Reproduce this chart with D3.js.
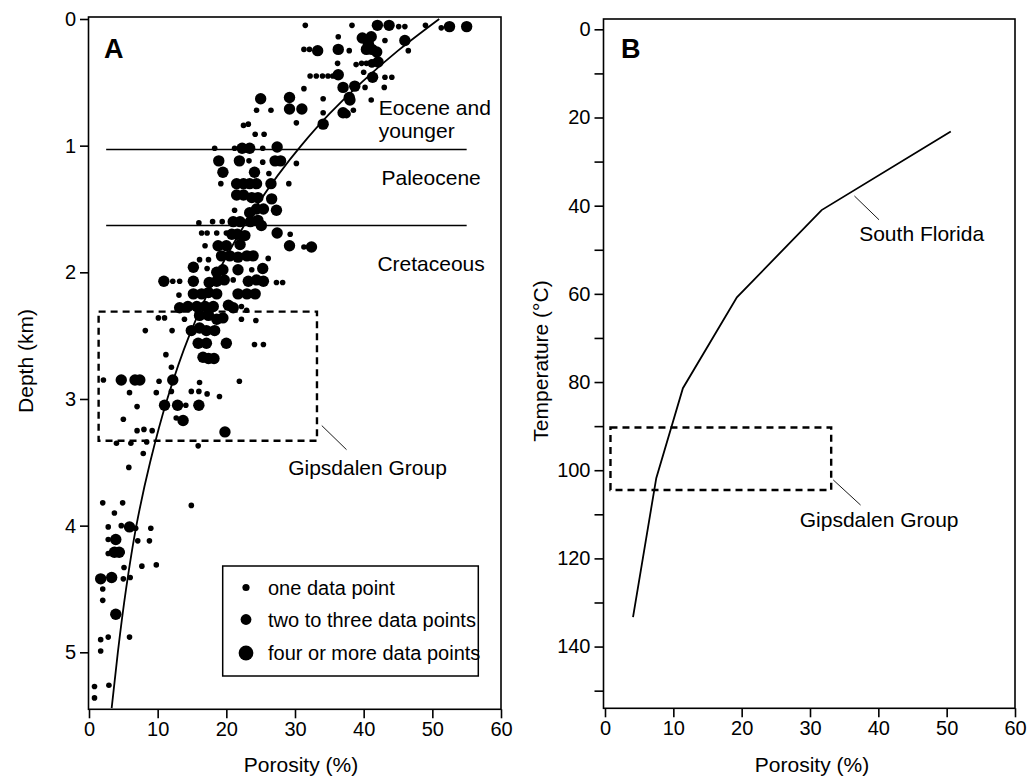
<!DOCTYPE html>
<html><head><meta charset="utf-8">
<script src="https://cdn.jsdelivr.net/npm/d3@7"></script>
<style>
body{margin:0;background:#fff}
svg{display:block}
text{font-family:"Liberation Sans",Arial,Helvetica,sans-serif;fill:#000}
</style>
</head><body>
<svg id="c" width="1027" height="777"></svg>
<script>
// ---------- data ----------
const porosityTicks = [0,10,20,30,40,50,60];
const depthTicks = [0,1,2,3,4,5];
const tempTicks = [0,20,40,60,80,100,120,140];
const tempMinorTicks = [10,30,50,70,90,110,130,150];

// [porosity %, depth km, count class: 1 = one, 2 = two-three, 3 = four or more]
const samples = [
[31.5,0.05,1],[38.3,0.05,1],[42.0,0.05,3],[43.7,0.05,3],[45.1,0.06,1],[46.0,0.06,1],[49.0,0.05,1],[51.3,0.07,1],[52.5,0.06,3],[55.0,0.06,3],
[36.3,0.14,1],[39.8,0.15,3],[41.1,0.14,3],[43.1,0.17,1],[46.0,0.17,3],[46.5,0.25,1],
[31.3,0.24,1],[32.1,0.24,1],[33.3,0.25,3],[36.3,0.24,3],[37.9,0.25,1],[40.4,0.24,3],[41.2,0.24,3],[41.9,0.26,3],[40.7,0.20,3],
[36.2,0.35,1],[38.9,0.36,1],[39.7,0.35,1],[40.4,0.35,1],[41.2,0.35,2],[42.1,0.34,3],
[32.2,0.45,1],[33.1,0.45,1],[34.0,0.45,1],[34.8,0.45,1],[35.5,0.45,1],[36.3,0.44,3],[40.0,0.42,1],[41.3,0.46,3],[43.1,0.46,1],[44.1,0.46,1],
[31.3,0.55,1],[37.0,0.54,3],[38.7,0.53,3],[40.2,0.54,1],[43.0,0.54,1],[37.9,0.62,3],[38.0,0.64,3],[34.1,0.63,1],[41.1,0.64,1],
[25.0,0.63,3],[29.2,0.62,3],[26.5,0.72,1],[24.4,0.72,1],[29.2,0.71,3],[31.0,0.71,3],[34.1,0.74,1],[37.0,0.74,3],[37.5,0.75,2],[38.5,0.72,1],
[30.2,0.82,1],[34.1,0.83,3],[22.5,0.84,1],[23.2,0.83,1],[24.2,0.91,1],[25.5,0.91,1],
[18.3,1.02,1],[21.2,1.02,1],[22.3,1.02,3],[23.4,1.02,3],[25.3,1.02,1],[27.4,1.01,3],
[18.9,1.12,3],[21.9,1.12,3],[23.3,1.12,1],[25.3,1.13,1],[27.1,1.12,3],[27.9,1.12,3],[30.2,1.14,1],
[19.5,1.21,3],[24.1,1.21,3],[26.2,1.22,1],
[19.2,1.30,1],[21.5,1.30,3],[22.5,1.30,3],[23.4,1.30,3],[24.4,1.30,3],[26.5,1.30,3],[29.1,1.30,1],
[21.5,1.39,3],[22.5,1.39,3],[23.7,1.41,3],[24.6,1.41,3],[26.6,1.42,3],
[21.2,1.51,1],[23.4,1.53,3],[24.4,1.50,3],[25.4,1.50,3],[27.3,1.51,3],
[16.0,1.61,1],[18.0,1.60,1],[19.4,1.60,1],[21.0,1.60,3],[22.0,1.60,3],[23.5,1.60,3],[24.6,1.59,3],[25.1,1.63,3],
[16.4,1.69,1],[17.2,1.69,1],[18.6,1.69,1],[20.0,1.69,1],[20.8,1.70,3],[21.6,1.70,3],[22.7,1.71,3],[27.4,1.69,3],[29.3,1.70,1],
[16.9,1.79,1],[18.8,1.79,3],[20.0,1.79,3],[22.0,1.78,3],[29.2,1.79,3],[31.3,1.80,1],[32.4,1.80,3],
[19.3,1.87,3],[20.5,1.87,3],[21.7,1.88,3],[23.0,1.87,3],[23.9,1.87,3],[16.1,1.90,1],[17.4,1.90,1],[26.1,1.89,1],
[15.2,1.96,3],[17.2,1.97,1],[18.6,2.00,3],[19.5,1.98,3],[21.7,1.98,3],[23.7,1.98,1],[25.3,1.97,3],
[10.9,2.07,3],[12.2,2.07,1],[13.2,2.07,1],[15.2,2.07,3],[17.5,2.08,3],[18.6,2.07,3],[19.7,2.06,3],[21.0,2.06,1],[23.2,2.07,3],[24.4,2.06,3],[25.4,2.07,3],[27.3,2.08,1],[28.2,2.08,1],
[13.1,2.18,1],[15.2,2.17,3],[16.4,2.17,3],[17.4,2.16,3],[18.6,2.17,3],[21.7,2.17,3],[23.0,2.17,3],[24.2,2.17,3],
[13.2,2.28,3],[14.4,2.27,3],[15.7,2.27,3],[16.9,2.27,3],[18.1,2.27,3],[20.3,2.26,3],[21.0,2.28,3],[22.2,2.27,1],[22.95,2.30,1],
[10.1,2.36,1],[11.0,2.36,1],[13.9,2.37,1],[16.1,2.34,3],[17.4,2.34,3],[18.6,2.37,3],[19.5,2.36,3],[22.2,2.37,1],[24.3,2.38,1],
[8.2,2.46,1],[12.1,2.46,1],[14.9,2.46,3],[16.1,2.44,3],[17.1,2.46,3],[18.3,2.46,3],
[15.9,2.56,3],[17.1,2.56,3],[20.0,2.56,3],[24.1,2.57,1],[25.4,2.57,1],
[11.2,2.65,1],[16.6,2.67,3],[17.4,2.68,3],[18.2,2.68,3],[12.0,2.75,1],
[2.1,2.85,1],[4.7,2.85,3],[6.7,2.85,3],[7.4,2.85,3],[10.2,2.86,1],[12.2,2.85,3],[16.1,2.87,1],[21.9,2.86,1],
[5.9,2.95,1],[9.8,2.95,1],[12.0,2.94,1],[14.9,2.94,1],[16.0,2.94,1],[17.2,2.96,1],[19.0,2.98,1],
[11.0,3.05,3],[12.9,3.05,3],[14.1,3.05,1],[16.0,3.05,3],[7.0,3.06,1],
[5.0,3.16,1],[12.7,3.15,1],[13.7,3.17,3],[7.0,3.25,1],[8.0,3.24,1],[9.2,3.25,1],[19.8,3.26,3],
[4.0,3.35,1],[6.1,3.35,1],[8.4,3.34,1],[15.9,3.37,1],[7.9,3.43,1],[5.8,3.54,1],
[14.9,3.84,1],[2.0,3.82,1],[4.9,3.82,1],[3.7,3.90,1],
[2.8,4.01,1],[4.7,4.00,1],[5.9,4.01,3],[6.8,4.02,1],[9.0,4.02,1],
[2.8,4.11,1],[3.9,4.11,3],[7.1,4.12,1],[8.8,4.12,1],
[2.8,4.22,1],[3.7,4.21,3],[4.4,4.21,3],[4.8,4.21,1],[7.7,4.32,1],[9.8,4.31,1],[5.1,4.33,1],
[1.7,4.42,3],[3.3,4.41,3],[5.0,4.42,1],[6.0,4.41,1],[2.0,4.50,1],[2.0,4.59,1],[3.9,4.70,3],
[1.7,4.90,1],[2.8,4.88,1],[5.9,4.88,1],[1.7,4.99,1],[2.9,5.26,1],[0.8,5.27,1],[0.8,5.36,1]
];

const trendDepth    = [0, 0.25, 0.5, 0.75, 1, 1.5, 2, 2.5, 3, 3.5, 4, 4.5, 5, 5.44];
const trendPorosity = [51, 45, 39.7, 35, 30.9, 24.1, 18.8, 14.6, 11.4, 8.9, 6.9, 5.4, 4.2, 3.3];

const floridaPorosity = [50.6, 31.7, 19.3, 11.4, 7.5, 4.1];
const floridaTemp     = [23.2, 41.0, 60.8, 81.4, 101.8, 133.3];

const unitBoundaries = [1.03, 1.63];
const legendLabels = ["one data point", "two to three data points", "four or more data points"];
const countClasses = [1, 2, 3];

// ---------- layout ----------
const svg = d3.select("#c");
const FONT = 20;
const radius = {1: 2.8, 2: 4.4, 3: 5.7};
const legendRadius = {1: 3.6, 2: 5.4, 3: 7.4};

const xA = d3.scaleLinear([0, 60], [89, 501]);
const yA = d3.scaleLinear([0, 5.45], [19, 709.3]);
const xB = d3.scaleLinear([0, 60], [605, 1015]);
const yB = d3.scaleLinear([-2.34, 154], [19, 708.3]);

function styleAxis(g){
  g.select(".domain").remove();
  g.selectAll(".tick line").attr("stroke", "#000").attr("stroke-width", 1.6);
  g.selectAll(".tick text").attr("font-size", FONT).attr("fill", "#000")
    .style("font-family", '"Liberation Sans",Arial,sans-serif');
}

// ---------- Panel A ----------
const gA = svg.append("g");
gA.append("g").attr("transform", `translate(${xA.range()[0]},0)`)
  .call(d3.axisLeft(yA).tickValues(depthTicks).tickSize(9).tickPadding(4).tickFormat(d3.format("d")))
  .call(styleAxis);
gA.append("g").attr("transform", `translate(0,${yA.range()[1]})`)
  .call(d3.axisBottom(xA).tickValues(porosityTicks).tickSize(9).tickPadding(4).tickFormat(d3.format("d")))
  .call(styleAxis);

gA.selectAll("line.unit").data(unitBoundaries).join("line")
  .attr("x1", xA(2.5)).attr("x2", xA(55))
  .attr("y1", d => yA(d)).attr("y2", d => yA(d))
  .attr("stroke", "#000").attr("stroke-width", 1.4);

gA.append("rect")
  .attr("x", xA(1.4)).attr("y", yA(2.31))
  .attr("width", xA(33.2) - xA(1.4)).attr("height", yA(3.33) - yA(2.31))
  .attr("fill", "none").attr("stroke", "#000").attr("stroke-width", 2.4)
  .attr("stroke-dasharray", "7,5");

gA.append("g").selectAll("circle").data(samples).join("circle")
  .attr("cx", d => xA(d[0])).attr("cy", d => yA(d[1]))
  .attr("r", d => radius[d[2]]).attr("fill", "#000");

const trendPts = trendDepth.map((d, i) => [trendPorosity[i], d]);
gA.append("path").datum(trendPts)
  .attr("d", d3.line().x(d => xA(d[0])).y(d => yA(d[1])).curve(d3.curveMonotoneY))
  .attr("fill", "none").attr("stroke", "#000").attr("stroke-width", 1.8);

gA.append("rect").attr("x", xA.range()[0] - 0.5).attr("y", 17)
  .attr("width", xA.range()[1] - xA.range()[0] + 0.5).attr("height", yA.range()[1] - 17)
  .attr("fill", "none").attr("stroke", "#000").attr("stroke-width", 1.6);

gA.append("text").attr("x", 104).attr("y", 58).attr("font-size", 27).attr("font-weight", "bold").text("A");
const unitText = [["Eocene and", 42.2, 0.758], ["younger", 42.2, 0.94], ["Paleocene", 42.6, 1.31], ["Cretaceous", 42.0, 1.99], ["Gipsdalen Group", 29.0, 3.60]];
gA.selectAll("text.unit").data(unitText).join("text")
  .attr("x", d => xA(d[1])).attr("y", d => yA(d[2])).attr("font-size", 21).text(d => d[0]);
gA.append("line").attr("x1", xA(33.9)).attr("y1", yA(3.21)).attr("x2", xA(37.5)).attr("y2", yA(3.40))
  .attr("stroke", "#000").attr("stroke-width", 0.9);

const lg = gA.append("g");
lg.append("rect").attr("x", 222.7).attr("y", 566).attr("width", 255.6).attr("height", 110)
  .attr("fill", "#fff").attr("stroke", "#000").attr("stroke-width", 1.5);
const legendY = [587.5, 619.5, 653];
lg.selectAll("circle").data(countClasses).join("circle")
  .attr("cx", 246).attr("cy", (d, i) => legendY[i]).attr("r", d => legendRadius[d]).attr("fill", "#000");
lg.selectAll("text").data(legendLabels).join("text")
  .attr("x", 268).attr("y", (d, i) => legendY[i] + 7).attr("font-size", 20).text(d => d);

svg.append("text").attr("transform", "translate(33,361) rotate(-90)").attr("text-anchor", "middle")
  .attr("font-size", 21).text("Depth (km)");
svg.append("text").attr("x", 301).attr("y", 772).attr("text-anchor", "middle").attr("font-size", 21).text("Porosity (%)");

// ---------- Panel B ----------
const gB = svg.append("g");
gB.append("g").attr("transform", `translate(${xB.range()[0] - 1.5},0)`)
  .call(d3.axisLeft(yB).tickValues(tempTicks.concat(tempMinorTicks)).tickSize(9).tickPadding(4)
    .tickFormat(d => tempTicks.includes(d) ? d3.format("d")(d) : ""))
  .call(styleAxis);
gB.append("g").attr("transform", `translate(0,${yB.range()[1]})`)
  .call(d3.axisBottom(xB).tickValues(porosityTicks).tickSize(9).tickPadding(4).tickFormat(d3.format("d")))
  .call(styleAxis);

gB.append("rect")
  .attr("x", xB(0.8)).attr("y", yB(90.3))
  .attr("width", xB(33.1) - xB(0.8)).attr("height", yB(104.5) - yB(90.3))
  .attr("fill", "none").attr("stroke", "#000").attr("stroke-width", 2.4)
  .attr("stroke-dasharray", "7,5");

const floridaPts = floridaPorosity.map((p, i) => [p, floridaTemp[i]]);
gB.append("path").datum(floridaPts)
  .attr("d", d3.line().x(d => xB(d[0])).y(d => yB(d[1])))
  .attr("fill", "none").attr("stroke", "#000").attr("stroke-width", 1.8);

gB.append("rect").attr("x", xB.range()[0] - 1.5).attr("y", 19)
  .attr("width", xB.range()[1] - xB.range()[0] + 1.5).attr("height", yB.range()[1] - 19)
  .attr("fill", "none").attr("stroke", "#000").attr("stroke-width", 1.6);

gB.append("text").attr("x", 621).attr("y", 58).attr("font-size", 27).attr("font-weight", "bold").text("B");
gB.append("text").attr("x", xB(37.2)).attr("y", yB(48.0)).attr("font-size", 21).text("South Florida");
gB.append("line").attr("x1", xB(36.5)).attr("y1", yB(37.8)).attr("x2", xB(40.1)).attr("y2", yB(43.2))
  .attr("stroke", "#000").attr("stroke-width", 0.9);
gB.append("text").attr("x", xB(28.5)).attr("y", yB(112.8)).attr("font-size", 21).text("Gipsdalen Group");
gB.append("line").attr("x1", xB(33.4)).attr("y1", yB(102.2)).attr("x2", xB(37.4)).attr("y2", yB(107.9))
  .attr("stroke", "#000").attr("stroke-width", 0.9);

svg.append("text").attr("transform", "translate(548,361) rotate(-90)").attr("text-anchor", "middle")
  .attr("font-size", 21).text("Temperature (°C)");
svg.append("text").attr("x", 812).attr("y", 772).attr("text-anchor", "middle").attr("font-size", 21).text("Porosity (%)");
</script>
</body></html>
